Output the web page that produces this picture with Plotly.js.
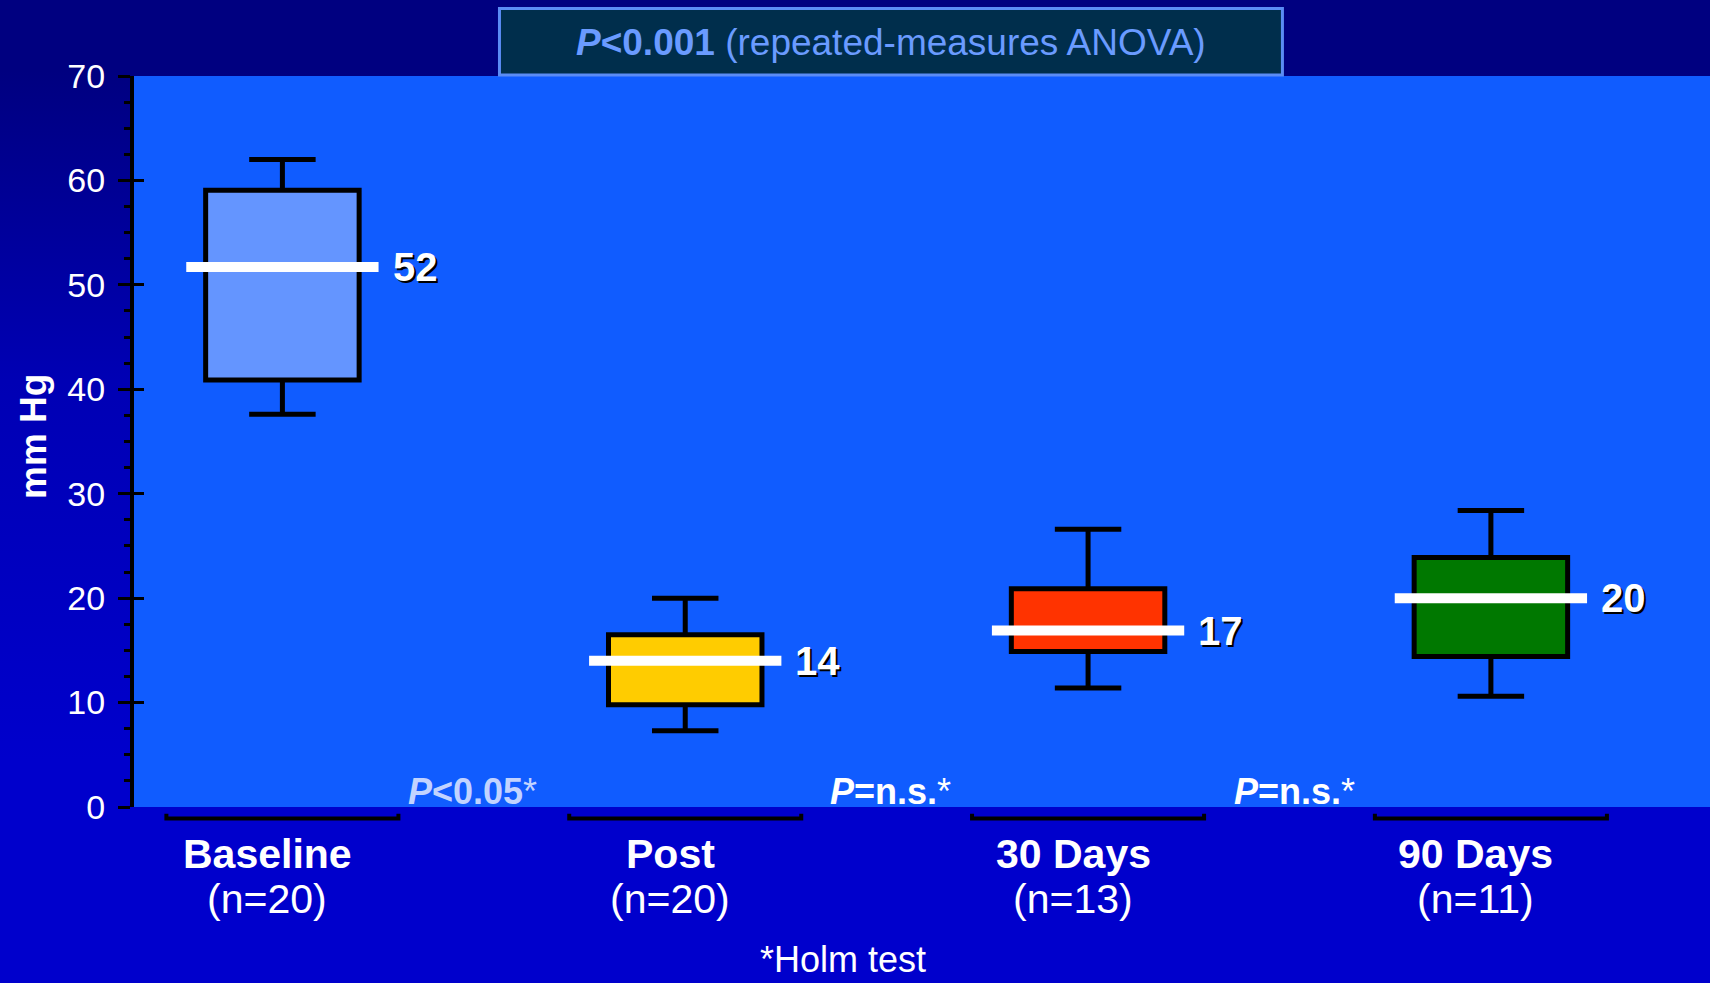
<!DOCTYPE html>
<html><head><meta charset="utf-8">
<script src="https://cdn.plot.ly/plotly-3.0.1.min.js"></script>
<style>
html,body{margin:0;padding:0;width:1710px;height:983px;overflow:hidden;
background:linear-gradient(to bottom,#000080 0px,#000080 70px,#0000B4 380px,#0000CC 760px,#0000CC 983px);}
#chart{width:1710px;height:983px;}
</style></head><body><div id="chart"></div>
<script>
// ---- data ----
const categories = ['Baseline', 'Post', '30 Days', '90 Days'];
const sampleSizes = ['(n=20)', '(n=20)', '(n=13)', '(n=11)'];
const lowerWhisker = [37.6, 7.3, 11.4, 10.6];
const q1 = [40.9, 9.8, 14.9, 14.4];
const medians = [51.7, 14.0, 16.9, 20.0];
const q3 = [59.05, 16.5, 20.9, 23.9];
const upperWhisker = [62.0, 20.0, 26.6, 28.4];
const comparisons = ['<b><i>P</i>&lt;0.05</b>*', '<b><i>P</i>=n.s.</b>*', '<b><i>P</i>=n.s.</b>*'];
const overallTest = '<b><i>P</i>&lt;0.001</b> (repeated-measures ANOVA)';
const footnote = '*Holm test';
const yAxisTitle = '<b>mm Hg</b>';

// ---- styles ----
const boxColors = ['#6495FF', '#FFCC00', '#FF3300', '#007800'];
const compColors = ['#C2D3FF', '#FFFFFF', '#FFFFFF'];
const compShift = [-11, 4, 5];
const FONT = '"Liberation Sans", Arial, Helvetica, sans-serif';
const BOX_W = 0.381, MED_HW = 0.2387, BR_HW = 0.288;

const traces = categories.map((c, i) => ({
  type: 'box', name: c, x: [i],
  q1: [q1[i]], median: [medians[i]], q3: [q3[i]],
  lowerfence: [lowerWhisker[i]], upperfence: [upperWhisker[i]],
  width: BOX_W, whiskerwidth: 0.433, fillcolor: boxColors[i],
  line: {color: '#000000', width: 5}, boxpoints: false,
  showlegend: false, hoverinfo: 'skip'
}));
const mx = [], my = [];
categories.forEach((c, i) => { mx.push(i - MED_HW, i + MED_HW, null); my.push(medians[i], medians[i], null); });
traces.push({type: 'scatter', mode: 'lines', x: mx, y: my, yaxis: 'y2',
  line: {color: '#FFFFFF', width: 10}, showlegend: false, hoverinfo: 'skip'});

const shapes = [];
categories.forEach((c, i) => {
  const a = i - BR_HW, b = i + BR_HW, yl = -0.0157, ye = -0.0092;
  shapes.push({type: 'path', xref: 'x', yref: 'paper', layer: 'above',
    path: `M ${a},${ye} L ${a},${yl} L ${b},${yl} L ${b},${ye}`,
    line: {color: '#000000', width: 4}});
});
shapes.push({type: 'rect', xref: 'paper', yref: 'paper', x0: 0.2319, x1: 0.7287, y0: 1.0015, y1: 1.0923,
  fillcolor: '#002E4C', line: {color: '#5B8CF5', width: 3}, layer: 'above'});

const annotations = [];
categories.forEach((c, i) => {
  const lbl = String(Math.round(medians[i]));
  annotations.push({xref: 'x', yref: 'y', x: i + MED_HW, y: medians[i], xanchor: 'left', yanchor: 'middle',
    xshift: 14, yshift: -2, showarrow: false, text: '<b>' + lbl + '</b>', font: {family: FONT, size: 40, color: '#000000'}});
  annotations.push({xref: 'x', yref: 'y', x: i + MED_HW, y: medians[i], xanchor: 'left', yanchor: 'middle',
    xshift: 12, showarrow: false, text: '<b>' + lbl + '</b>', font: {family: FONT, size: 40, color: '#FFFFFF'}});
  annotations.push({xref: 'x', yref: 'paper', x: i, y: -0.0644, xshift: -15, xanchor: 'center', yanchor: 'middle',
    showarrow: false, text: '<b>' + c + '</b>', font: {family: FONT, size: 41, color: '#FFFFFF'}});
  annotations.push({xref: 'x', yref: 'paper', x: i, y: -0.126, xshift: -15, xanchor: 'center', yanchor: 'middle',
    showarrow: false, text: sampleSizes[i], font: {family: FONT, size: 41, color: '#FFFFFF'}});
});
comparisons.forEach((t, i) => {
  annotations.push({xref: 'x', yref: 'y', x: i + 0.5, y: 0, xshift: compShift[i], yshift: -7,
    xanchor: 'center', yanchor: 'bottom', showarrow: false, text: t,
    font: {family: FONT, size: 36, color: compColors[i]}});
});
annotations.push({xref: 'paper', yref: 'paper', x: 0.4803, y: 1.0458, xanchor: 'center', yanchor: 'middle',
  showarrow: false, text: overallTest, font: {family: FONT, size: 37, color: '#6A9BFF'}});
annotations.push({xref: 'paper', yref: 'paper', x: 0.4499, y: -0.2085, xanchor: 'center', yanchor: 'middle',
  showarrow: false, text: footnote, font: {family: FONT, size: 36, color: '#FFFFFF'}});
annotations.push({xref: 'paper', yref: 'paper', x: -0.0641, y: 0.5075, xanchor: 'center', yanchor: 'middle',
  textangle: -90, showarrow: false, text: yAxisTitle, font: {family: FONT, size: 37, color: '#FFFFFF'}});

const layout = {
  width: 1710, height: 983,
  margin: {l: 134, r: 0, t: 76, b: 176, pad: 0},
  paper_bgcolor: 'rgba(0,0,0,0)', plot_bgcolor: '#105CFF',
  showlegend: false,
  xaxis: {range: [-0.3684, 3.5439], showgrid: false, zeroline: false, showline: false,
    ticks: '', showticklabels: false, fixedrange: true},
  yaxis: {range: [0, 70], tick0: 0, dtick: 10, ticks: 'outside', ticklen: 12, tickwidth: 3, tickcolor: '#000000',
    showline: true, linecolor: '#000000', linewidth: 4, showgrid: false, zeroline: false,
    tickfont: {family: FONT, size: 34, color: '#FFFFFF'}, ticklabelstandoff: 6, fixedrange: true,
    minor: {dtick: 2.5, ticks: 'outside', ticklen: 6, tickwidth: 3, tickcolor: '#000000', showgrid: false}},
  yaxis2: {overlaying: 'y', side: 'left', range: [0, 70], tick0: 0, dtick: 10, ticks: 'inside', ticklen: 10,
    tickwidth: 3, tickcolor: '#000000', showticklabels: false, showline: false, showgrid: false,
    zeroline: false, fixedrange: true},
  shapes: shapes, annotations: annotations
};
Plotly.newPlot('chart', traces, layout, {displayModeBar: false, staticPlot: true});
</script></body></html>
